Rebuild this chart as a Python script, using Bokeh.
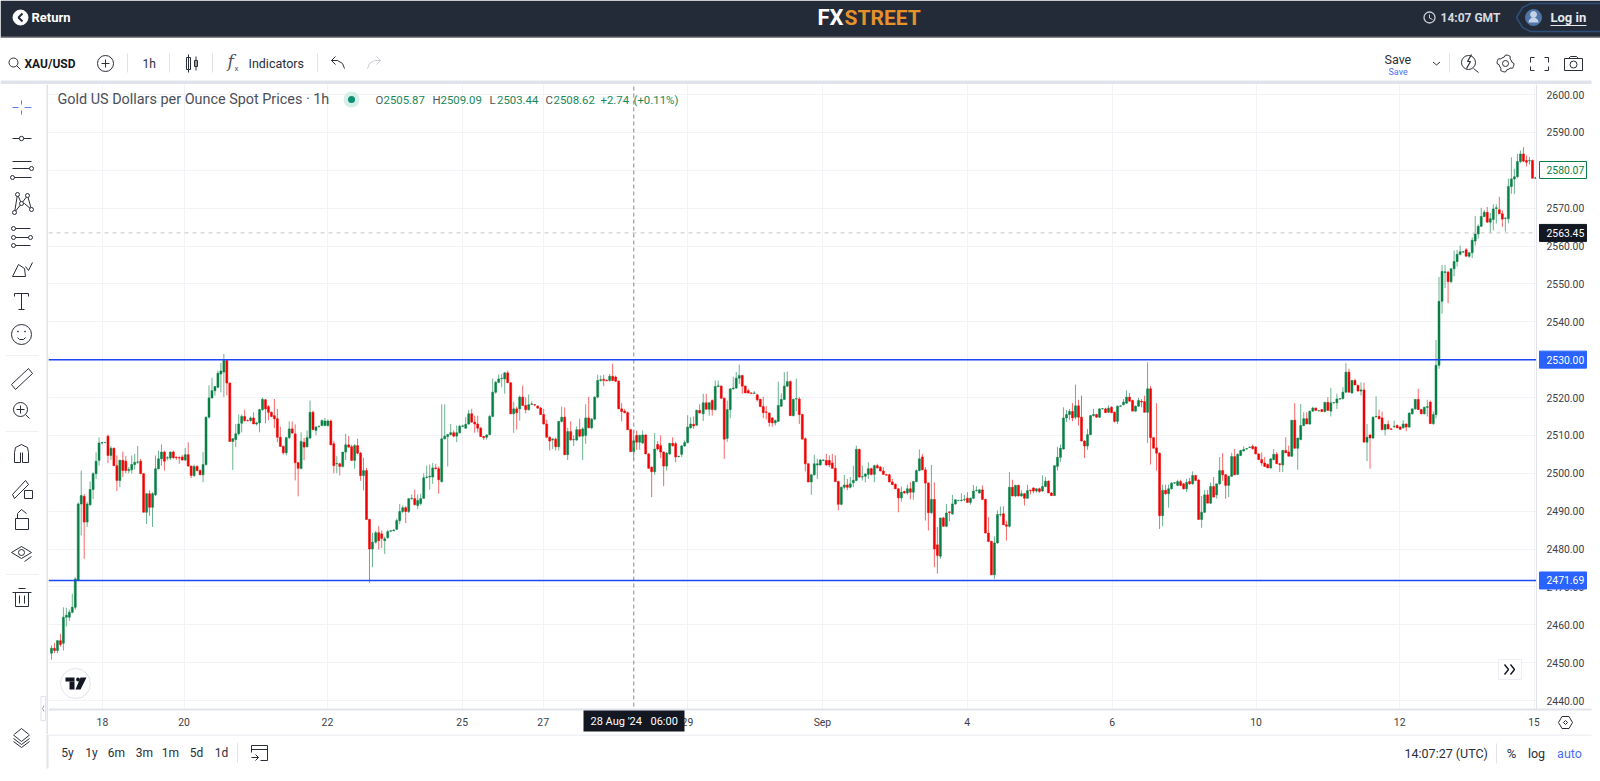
import math
import numpy as np
from bokeh.plotting import figure
from bokeh.layouts import column, row
from bokeh.models import Range1d, FixedTicker, NumeralTickFormatter, Label, BoxAnnotation, PolyAnnotation, ColumnDataSource
from bokeh.core.properties import value
from bokeh.embed import file_html
from bokeh.resources import INLINE

# ---------- DATA: hourly XAU/USD candles (open, high, low, close) ----------
bars_aug_18_to_23 = [
(2452.5,2454.5,2450.8,2453.8),(2453.8,2455.2,2452.5,2453.2),(2453.2,2456,2452.5,2455.8),(2455.8,2457.6,2454.2,2454.8),
(2455.1,2464.6,2453.2,2462),(2462,2464.5,2459.5,2462.5),(2462,2464,2461,2463.3),(2463.3,2468.2,2463,2464.6),
(2464.6,2472.5,2464,2472.1),(2471.8,2492.3,2471.5,2491.9),(2491.9,2500.7,2483.6,2494.1),(2493.9,2494.5,2477.4,2487.1),
(2487.1,2492.5,2485.8,2491.9),(2491.7,2497.8,2491.3,2495.7),(2495.7,2500.3,2493.2,2499.9),(2499.9,2505.5,2498.5,2503.2),
(2503.4,2509.5,2502,2508),(2508,2508.3,2507.6,2508.1),(2508.1,2508.2,2508,2508.15),(2509.8,2510.2,2502.7,2504.7),
(2504.7,2507.2,2503.5,2506.6),(2506.6,2506.8,2502,2502),(2502,2504.7,2495.3,2498.1),(2498.1,2503.6,2496.3,2503.4),
(2503.4,2505.7,2499,2500.7),(2503.2,2504.5,2500,2500.7),(2500.7,2501.6,2500,2501),(2500.9,2504.7,2499.9,2502.3),
(2502.3,2505.1,2501,2502.9),(2502.9,2507.2,2502.5,2503),(2503.2,2503.8,2499.8,2499.9),(2499.9,2500,2489.7,2489.7),
(2489.7,2494.7,2486.6,2494.6),(2494.6,2495.5,2488.8,2491),(2491,2495,2485.8,2494.6),(2494.3,2504.7,2494,2501.2),
(2501.2,2506,2501,2503.8),(2503.8,2507.6,2502,2505.6),(2505.6,2506,2500.7,2503.2),(2504,2504.5,2503.4,2504.1),
(2504,2505.7,2503.5,2505.6),(2505.6,2506,2503.8,2504.1),(2504.2,2504.5,2503.5,2504.1),(2504.1,2504.5,2502.5,2504),
(2504.3,2504.8,2503.3,2503.5),(2503.5,2506.7,2503.2,2504.9),(2504.9,2508.2,2501.8,2501.9),(2501.9,2502,2498.7,2499.4),
(2499.4,2502.3,2499,2501.8),(2501.8,2502.2,2500.5,2500.7),(2500.7,2501,2499.5,2499.6),(2499.6,2505.6,2497.6,2502.3),
(2502.3,2515,2502,2514.8),(2514.8,2523.2,2514.5,2519.9),(2519.9,2525.2,2519.7,2521.8),(2521.8,2523,2520.5,2522.9),
(2522.7,2527.1,2522.5,2526.4),(2526.2,2529.1,2521.4,2527),(2526.7,2531.5,2520.1,2529.8),(2529.8,2530,2520.5,2523.8),
(2523.8,2524,2508.3,2508.4),(2508.4,2509.3,2500.9,2509.1),(2508.9,2513,2506.9,2510.4),(2510.4,2515.5,2510,2513),
(2513.2,2515.5,2510.8,2515),(2515,2516.8,2513.6,2513.9),(2513.9,2514.2,2513.7,2513.85),(2513.9,2515,2513.6,2514.6),
(2514.6,2516.1,2513,2513),(2513,2513.6,2512.6,2513.3),(2513.3,2517,2510.8,2516.8),(2516.8,2520,2516.5,2519.5),
(2519.4,2519.6,2513.2,2517),(2517.6,2518,2514,2516.1),(2516.1,2516.3,2514.8,2515),(2515.2,2519.6,2511.9,2514.4),
(2514.4,2517,2508.2,2509.5),(2509.5,2512.3,2507,2507.1),(2507.1,2507.3,2504.9,2505.4),(2505.4,2509.6,2504.7,2509.4),
(2509.4,2513.7,2509,2511.7),(2511.7,2513.7,2510.5,2510.6),(2510.4,2512.9,2498.1,2502.8),(2502.8,2503,2493.9,2501.3),
(2501.3,2510.8,2501,2508.4),(2508.2,2509.3,2503.4,2506.9),(2507,2511.3,2506.8,2509.4),(2509.3,2519.2,2509,2516.1),
(2516.1,2516.5,2511.4,2511.5),(2511.3,2512.5,2510,2512.2),(2512.3,2512.6,2512.1,2512.4),(2512.6,2514.2,2512.4,2513.9),
(2512.6,2514.6,2512.4,2513.8),(2512.6,2514.2,2512.3,2513.8),(2513.8,2514.2,2507.4,2507.5),(2507.8,2508.6,2500,2502),
(2502.5,2504.5,2500,2502.6),(2502.5,2502.8,2499.4,2501.8),(2501.8,2505.6,2501.5,2505.6),(2505.6,2510.4,2503.5,2507.5),
(2507.5,2509.8,2506.8,2506.9),(2507,2507.5,2503.3,2503.4),(2503.4,2507.7,2501.2,2507.3),(2507.3,2509.1,2505,2505.3),
(2505.3,2505.6,2498,2499.4),(2499.4,2504.1,2495.5,2500.7),(2500.7,2501.4,2487.8,2487.8),(2487.8,2488,2471.1,2480),
(2480,2484.3,2475.2,2481.8),
]
bars_aug_23_to_29 = [
(2481.8,2484.8,2481.4,2484.3),(2484.3,2486,2479.9,2482.2),(2484,2484.9,2480.3,2482.8),(2482.2,2483.3,2478.7,2482.7),
(2483,2485.1,2482.7,2484.6),(2484.7,2485,2484.5,2484.8),(2484.8,2485.3,2484.7,2485),(2485.2,2488,2485,2487.5),
(2487.5,2491.9,2486.6,2489.9),(2489.9,2491.5,2489.5,2490.9),(2490.9,2491.3,2486.8,2489.9),(2489.9,2493.3,2489.5,2493.3),
(2493.3,2494.4,2493,2493.4),(2493.3,2495.7,2491.5,2491.7),(2491.5,2494.4,2490.6,2492.8),(2492,2494.6,2491.5,2493.3),
(2493.4,2500,2493.2,2498.8),(2498.9,2502,2498.6,2499),(2499,2502.3,2495.7,2499.2),(2499,2502.7,2497.2,2501.4),
(2501.4,2502.5,2501,2501.2),(2501.2,2501.8,2494.6,2498.3),(2497.8,2518.2,2497.5,2509.1),(2509.1,2518.2,2508.9,2509.8),
(2509.7,2510.4,2501.8,2510.2),(2510.2,2513,2510,2510.7),(2510.7,2511.3,2509.5,2509.8),(2509.8,2512.6,2508.2,2510.7),
(2510.7,2512.8,2510.5,2512.4),(2512.4,2512.8,2512.2,2512.5),(2511.9,2514.8,2511.7,2512.9),(2513,2516.7,2512.8,2515.7),
(2515.7,2517,2513.3,2513.5),(2513.5,2515.2,2510.7,2513),(2513,2515.2,2510.8,2511.9),(2511.9,2512.2,2509.6,2509.7),
(2509.7,2509.8,2508.8,2509.4),(2509.5,2510.3,2508.9,2510.1),(2510.2,2515.4,2510,2515),(2515,2525,2514.8,2521.4),
(2521.4,2524.4,2521,2524),(2524,2526.1,2523.8,2524.9),(2525,2526.2,2522.7,2525.1),(2524.9,2526.8,2521,2526.5),
(2526.5,2527.1,2523.8,2523.9),(2523.9,2524,2515.6,2515.7),(2515.7,2518.9,2510.7,2517),(2517,2517.6,2511.5,2516),
(2517,2520.5,2513.9,2520.1),(2520.1,2523.2,2517.8,2517.9),(2517.9,2520,2515.8,2516.8),(2516.8,2520.8,2516.5,2518.1),
(2518.2,2519,2518,2518.3),(2518.1,2518.3,2517.8,2518),(2517.7,2518,2517,2517.2),(2517.2,2517.5,2515.4,2515.5),
(2515.5,2517,2512.9,2513),(2513,2514.1,2509.5,2509.5),(2509.5,2509.8,2506,2508.5),(2508.8,2509.3,2506.4,2509),
(2509,2509.4,2506,2507),(2507,2513.7,2506,2513.7),(2513.7,2517.6,2513.4,2514.8),(2514.8,2517.4,2504.8,2504.9),
(2504.9,2512,2503.5,2511),(2511,2513.7,2508.6,2508.8),(2508.8,2510,2507.2,2508.9),(2508.8,2512.4,2508.5,2511.5),
(2511.5,2514.4,2509.5,2509.8),(2509.8,2512.2,2503.5,2511.7),(2510,2518.2,2507.8,2514.6),(2514.6,2520.2,2511.9,2512),
(2512,2514.6,2511.6,2514.3),(2514.3,2520.3,2514,2520.1),(2520.1,2526,2519.8,2524.5),(2524.5,2525.8,2524.2,2524.7),
(2524.8,2526,2523,2524.5),(2524.5,2524.8,2524.3,2524.4),(2524.5,2526.2,2524.2,2525.6),(2525.6,2528.9,2524.3,2524.5),
(2525.4,2525.8,2524.1,2524.3),(2524.3,2524.5,2517,2517),(2517,2518.5,2513.7,2516.3),(2516.4,2517,2515.8,2516),
(2516,2516.3,2511.4,2511.5),(2511.5,2511.7,2505.7,2505.7),(2505.7,2511.3,2503.5,2508.6),(2510,2511.3,2506.2,2508.2),
(2508.2,2510.2,2506.2,2510),(2508,2511.3,2507.7,2510.1),(2510.1,2510.3,2505.1,2505.1),(2505.1,2505.3,2501.3,2501.3),
(2501.6,2501.8,2493.7,2500.4),(2500.4,2510.6,2499.6,2506.4),(2507.6,2508.5,2506,2506.4),(2507.3,2510,2504,2505.6),
(2505.6,2505.8,2496.6,2501.9),(2501.9,2505.6,2500.7,2505.3),(2505.1,2508,2504.9,2507.9),(2507.9,2509.5,2507,2507.3),
(2507.8,2508.3,2502.9,2504.3),(2504.4,2504.6,2504.2,2504.5),(2505,2507.5,2504.3,2507.2),(2507.2,2508.7,2507,2508.1),
(2508.1,2515.3,2507.9,2512.2),(2512,2514.8,2511.8,2513),(2512.9,2515,2511.7,2512.5),(2512.7,2516.8,2512.5,2516.6),
(2516.6,2518.2,2515.8,2515.9),
]
bars_aug_29_to_sep_4 = [
(2515.7,2521,2513.8,2518.6),(2518.6,2521,2516.8,2516.9),(2516.9,2518.8,2515.2,2518.6),(2519.2,2519.5,2515.2,2516.8),
(2516.8,2524.5,2516.5,2522.9),(2522.9,2524.5,2522.7,2523.1),(2523,2523.2,2519.6,2519.8),(2519.8,2520,2503.8,2509),
(2509.2,2519.2,2508.3,2516.8),(2516.8,2522.3,2514.5,2522.3),(2522.3,2525.5,2522,2522.5),(2522.5,2526.7,2522.2,2525.1),
(2525.1,2528.7,2523.6,2525.8),(2525.8,2526,2521,2523),(2523,2523.2,2521.2,2521.2),(2521.8,2522.3,2521,2521.2),
(2521.2,2521.4,2521,2521.1),(2521.1,2521.7,2521,2521.2),(2520.7,2521,2518.9,2519.4),(2519.5,2519.7,2517.6,2517.6),
(2517.6,2520.2,2514.5,2516),(2516.2,2517.7,2514.2,2516.1),(2515.9,2516.1,2512.3,2513.4),(2514.6,2514.8,2512.3,2513.3),
(2513.3,2514.2,2512.6,2513.9),(2513.7,2524.2,2513.5,2517.9),(2517.7,2521.1,2517.5,2519.5),(2519.5,2526.7,2519.3,2523),
(2523,2526.9,2522.8,2524.2),(2524.2,2524.5,2515.2,2515.2),(2515.2,2519.7,2515,2519.5),(2519.6,2525,2516.4,2519.7),
(2519.6,2520.1,2513,2515.5),(2515.5,2515.7,2509,2509),(2509.1,2509.5,2500.5,2502.5),(2502.5,2502.7,2497.6,2497.7),
(2497.7,2499.7,2494.3,2499.6),(2499.6,2504.9,2499.4,2502.5),(2502.2,2503.8,2498.5,2502.5),(2502.2,2503.8,2502,2503.5),
(2503.4,2503.7,2503.2,2503.5),(2503.4,2505.1,2502,2502.2),(2503.4,2504.7,2501.6,2502.2),(2502.7,2505.1,2501.3,2501.3),
(2501.3,2504.7,2497.8,2497.8),(2497.8,2498,2490.2,2491.8),(2491.8,2496.5,2491.5,2496.3),(2496.3,2499.6,2495.8,2496.9),
(2496.9,2498.5,2495.5,2496.3),(2496.3,2499,2496,2497.2),(2497.5,2502,2496.3,2498.1),(2498.1,2507.3,2497.9,2506.3),
(2506.3,2506.5,2498.8,2499),(2499,2502,2498.1,2499.1),(2499.2,2500,2497.6,2499.8),(2499.7,2502.9,2498.5,2501.2),
(2501.2,2501.5,2499.4,2499.7),(2499.7,2502.3,2497.6,2502),(2502,2502.5,2501.3,2501.4),(2501.6,2501.9,2500.5,2500.6),
(2500.6,2501.6,2499.6,2499.7),(2499.6,2499.8,2499.4,2499.5),(2499.6,2499.8,2497.6,2497.7),(2497.7,2498.5,2496.9,2497),
(2497.1,2497.3,2495.8,2495.9),(2495.9,2496.1,2489.7,2493.5),(2493.5,2496.5,2492.5,2495),(2495.2,2495.4,2494.6,2494.8),
(2494.8,2497,2494.3,2495.9),(2495.9,2497.6,2493.1,2495),(2495,2498,2493,2497.8),(2497.8,2501,2497.6,2500.7),
(2500.7,2506.3,2500.5,2503.8),(2504.3,2505.1,2500.9,2500.9),(2500.9,2501.6,2487.5,2497.4),(2497.4,2497.6,2484.9,2489.6),
(2489.6,2502.2,2489.2,2493.1),(2493.1,2497.6,2475.2,2480),(2481.1,2485.8,2473.5,2478.3),(2478.1,2488.2,2477.4,2488.2),
(2488.2,2488.5,2485.9,2486),(2486,2491.9,2485.8,2489.5),(2489.8,2490,2487.3,2489.6),(2489.3,2494.3,2489,2491.9),
(2491.9,2493,2491.7,2493),(2492.8,2493,2492.6,2492.8),(2492.8,2494.7,2492.5,2492.9),(2493,2494.3,2492.6,2493.1),
(2493.4,2495,2492.2,2492.3),(2492.3,2493.6,2491.7,2493.4),(2493.4,2496.9,2493.2,2495.3),(2495.4,2496.6,2495.2,2495.5),
(2494.8,2495.9,2494.6,2495.6),(2495.6,2496.8,2493,2493.1),(2493.1,2493.3,2484.2,2484.2),(2484.2,2488.4,2481.8,2482),
(2482,2482.2,2473.1,2473.2),(2473.2,2483.3,2472.1,2481.6),(2481.6,2490.2,2481.4,2489.1),(2489,2491.2,2488.6,2489.1),
(2489.3,2491.3,2486.3,2486.4),(2486.4,2487.5,2482.2,2486),(2486,2500.3,2485.7,2496.3),(2496.3,2498.3,2493.9,2494),
(2494,2496.8,2493.7,2496.8),(2496.8,2497,2493.9,2494),(2494,2495.5,2493.8,2494.6),(2494.6,2494.8,2491.5,2493.4),
(2493.4,2497,2493.2,2495.4),
]
bars_sep_4_to_10 = [
(2495.5,2495.7,2494.4,2495.4),(2496.1,2496.3,2494.7,2495.3),(2495.3,2496,2494.9,2495.9),(2495.9,2496.2,2494.8,2495.2),
(2495.3,2499.4,2495.1,2496.5),(2496.5,2499,2496.3,2497.9),(2497.9,2498.1,2494.8,2494.8),(2494.8,2495,2494,2494.1),
(2494.1,2502,2494,2502),(2501.8,2507,2500.7,2504.2),(2504.2,2507.6,2503,2506.6),(2506.4,2517.4,2506.2,2514.6),
(2514.6,2516.7,2513.5,2515.5),(2515.5,2517,2514,2516.3),(2516.3,2518.5,2513.7,2514.6),(2514.8,2523.4,2514.3,2517.8),
(2517.8,2519.4,2512.6,2514.8),(2514.8,2520.5,2508.4,2508.5),(2508.5,2508.7,2504,2507.2),(2507.2,2511.7,2506.2,2510.2),
(2510.2,2515.4,2510,2515.2),(2515.2,2517,2515,2515.5),(2515.5,2515.7,2514.6,2514.8),(2514.8,2517.1,2514.6,2517),
(2517,2517.2,2516.8,2517.05),(2517,2517.3,2515.9,2516),(2516.1,2517.9,2515.9,2517.2),(2517.4,2517.7,2515.9,2516),
(2516.1,2516.3,2513.4,2513.7),(2513.7,2517.9,2513,2517.7),(2517.7,2517.9,2517.5,2517.8),(2518.1,2519.6,2517.9,2518.8),
(2518.5,2521.9,2518.3,2520.1),(2520.1,2521.2,2519,2519),(2519.2,2519.4,2516.4,2516.4),(2516.4,2517.9,2516.2,2517.7),
(2517.7,2519.9,2517.5,2519.2),(2519,2519.6,2517.4,2518.8),(2518.9,2520.5,2516.1,2516.1),(2516.1,2529.3,2508,2522.3),
(2522.3,2523,2502.3,2509.4),(2509.4,2509.6,2506.6,2506.6),(2506.7,2518.5,2500.7,2505.3),(2505.3,2505.5,2485.3,2488.8),
(2488.8,2497,2486,2495.5),(2495.5,2497,2494.3,2494.6),(2494.6,2497,2490.9,2495.9),(2495.9,2497.6,2495.7,2497.4),
(2497.4,2497.6,2497.2,2497.5),(2496.8,2498.3,2496.6,2497.8),(2497.8,2498.3,2496.6,2496.8),(2497.2,2497.4,2495.7,2495.9),
(2495.9,2498.5,2495,2497.6),(2497.8,2498.8,2497,2497.2),(2497.2,2500.5,2497,2499.4),(2499.4,2499.6,2498,2498.1),
(2498.2,2498.4,2487.7,2487.8),(2487.8,2494,2485.6,2489.7),(2489.7,2495.6,2489.5,2494.3),(2494.3,2495.6,2492.1,2492.1),
(2492.1,2497.6,2491.9,2496.5),(2496.5,2499,2493.7,2493.7),(2494.3,2497.2,2493.3,2497.2),(2497.2,2504.3,2497,2500.7),
(2500.7,2505.3,2498,2499.6),(2499.6,2499.8,2493.3,2496.8),(2496.8,2499.3,2493.7,2499.2),(2499.2,2505.4,2499,2504.4),
(2504.4,2506.4,2499.5,2499.6),(2499.7,2505.2,2499.5,2505),(2504.7,2506.2,2504.5,2506),(2505.9,2507.1,2505.7,2506.3),
(2506.4,2506.7,2506.2,2506.5),(2506.8,2507.1,2506.7,2506.9),(2507.1,2507.6,2506.2,2506.5),(2506.9,2507.2,2505.1,2505.1),
(2505.1,2505.3,2503.6,2503.6),(2503.6,2505.5,2502,2502.7),(2502.7,2504.3,2501.7,2501.8),(2502.3,2502.6,2501.4,2501.4),
(2501.4,2503.9,2501.2,2503.8),(2503.6,2506.4,2503.4,2505),(2505,2505.6,2502.5,2502.5),(2502.5,2502.7,2500.3,2502.3),
(2502.2,2506.2,2500.3,2506),(2506,2509.5,2505.3,2505.4),(2505.6,2507.3,2504.5,2504.5),(2504.5,2514,2504.3,2514),
(2514,2518.5,2506.5,2506.6),(2506.6,2509.3,2500.9,2509.3),
]
bars_sep_10_to_13 = [
(2508.9,2518.3,2508.7,2512.6),(2512.6,2516.1,2512.4,2514.4),(2514.4,2516.1,2513,2513),(2513,2516.5,2512.8,2516.4),
(2516.4,2517.6,2516.2,2517.2),(2517.2,2517.4,2516.5,2516.6),(2516.5,2516.7,2516.3,2516.55),(2516.8,2517,2516.2,2516.3),
(2516.3,2518.9,2516.1,2518.7),(2518.7,2520.1,2516.5,2516.6),(2516.4,2522.5,2515,2518.6),(2518.6,2518.8,2518.4,2518.65),
(2518.6,2521,2517,2519.6),(2519.6,2519.8,2519.4,2519.7),(2519.7,2522.7,2519.5,2521.4),(2521.4,2529.1,2521.2,2526.7),
(2526.7,2527.6,2521.3,2521.4),(2521.2,2524.6,2521,2524.5),(2524.5,2525,2523.3,2523.3),(2523.2,2523.4,2521.6,2521.7),
(2521.7,2524,2520.5,2522),(2522,2523.9,2508.2,2508.2),(2508.2,2513,2503.2,2509.5),(2510.1,2510.4,2501.2,2509.3),
(2509.3,2515,2509,2514.8),(2514.9,2520.3,2514.7,2515),(2515,2516.8,2514.2,2514.4),(2514.6,2516.3,2511.4,2511.5),
(2511.5,2512.9,2510,2512.9),(2512.9,2513.9,2511.6,2511.7),(2511.7,2511.9,2511.5,2511.6),(2512.3,2513.9,2511.9,2512.4),
(2512.6,2512.9,2511.9,2512),(2512.2,2512.4,2511.5,2511.6),(2512,2514,2511.8,2513),(2513,2513.2,2511.1,2512.2),
(2512.2,2516,2512,2515.9),(2515.7,2517.1,2515.5,2517),(2517,2519.5,2516.8,2519.5),(2519.5,2522.3,2516.8,2516.8),
(2516.8,2517,2515.6,2515.7),(2515.7,2517.6,2515.5,2517.4),(2517.4,2519.4,2515,2517.6),(2518.8,2519.2,2513,2513.1),
(2513.1,2516.3,2512.8,2515.5),
]
bars_sep_13_to_15 = [
(2515.5,2535.2,2514.5,2528.5),(2528.5,2551.8,2527.6,2545.4),(2545.4,2555,2542.1,2553.3),(2553,2555,2548.9,2553.2),
(2553.1,2553.5,2544.9,2550.6),(2550.6,2554,2550.2,2554),(2554,2558.8,2552,2555.9),(2555.9,2559,2554.6,2557.8),
(2557.8,2560.1,2557.5,2558.5),(2558.4,2558.7,2558.1,2558.45),(2559,2559.5,2557.2,2557.3),(2557.3,2558.4,2556.8,2558.2),
(2558.2,2562.3,2556.8,2561.5),(2561.3,2567.9,2560.1,2563.2),(2563.2,2565.7,2561.9,2565.2),(2565.2,2570.1,2565,2567.8),
(2567.8,2569.5,2567.6,2568.9),(2568.9,2570.3,2566.2,2566.3),(2566.3,2568.7,2563.4,2567.2),(2567,2571,2564.1,2569.8),
(2569.9,2571,2565.9,2570.1),(2569.6,2573,2568.5,2568.5),(2568.5,2569.4,2565,2567.1),(2567.3,2567.5,2563.8,2567.4),
(2567.2,2577.8,2566,2575.7),(2575.7,2583.4,2573.8,2577.7),(2577.7,2580.4,2573.7,2578.3),(2578.3,2584.3,2578,2582.3),
(2582.3,2585.2,2581.9,2584.3),(2584.3,2586.1,2582.2,2582.4),(2582.6,2583.9,2581,2582.1),(2582.5,2583.5,2581.5,2582.6),
(2582.6,2582.8,2577.9,2577.9),(2577.9,2578.2,2577.7,2578),(2578.6,2580.3,2578.2,2580.07),
]
segments = [bars_aug_18_to_23, bars_aug_23_to_29, bars_aug_29_to_sep_4, bars_sep_4_to_10, bars_sep_10_to_13, bars_sep_13_to_15]
# first and last bar slot of each run of candles on the hourly time scale
segment_slots = [(0, 107.7), (108.8, 217.5), (218.7, 327.5), (328.5, 418.2), (419.2, 463.7), (464.6, 499)]
price_ticks = [2440,2450,2460,2470,2480,2490,2500,2510,2520,2530,2540,2550,2560,2570,2580,2590,2600]
date_labels = ["18","20","22","25","27","29","Sep","4","6","10","12","15"]
date_slots = [17.1,44.5,92.6,137.8,165,213.4,258.7,307.3,355.9,404.2,452.4,497.5]
crosshair_slot = 195.4
crosshair_price = 2563.45
upper_level = 2530.00
lower_level = 2471.69
last_price = 2580.07
range_buttons = ["5y","1y","6m","3m","1m","5d","1d"]
legend_parts = ["O","2505.87","H","2509.09","L","2503.44","C","2508.62","+2.74","(+0.11%)"]

# ---------- palette ----------
INK, GREY, BAND, GRID = "#2a2e39", "#50535e", "#e0e3eb", "#f2f3f6"
GREEN, RED, BLUE, NAVY = "#087f45", "#f00000", "#1a47f0", "#232b38"
SANS = value("Roboto")
SCALE_SIZE = "10.4px"

bars = [b for seg in segments for b in seg]
slots = np.concatenate([np.linspace(a, b, len(seg)) for seg, (a, b) in zip(segments, segment_slots)]).tolist()
O = [b[0] for b in bars]; H = [b[1] for b in bars]; L = [b[2] for b in bars]; C = [b[3] for b in bars]
spacing, first_px = 2.98, 51
slot_of = lambda px_x: (px_x - first_px) / spacing
price_of = lambda px_y: 2440 + (700 - px_y) / 3.7875

# ---------- main chart: frame spans page x 48..1600, y 84..734; axes sit inside it ----------
XS, XE, YS, YE = slot_of(48), slot_of(1600), price_of(734), price_of(84)
p = figure(width=1552, height=650, frame_width=1552, frame_height=650, output_backend="svg", toolbar_location=None,
           x_range=Range1d(XS, XE), y_range=Range1d(YS, YE), min_border=0,
           x_axis_location="below", y_axis_location="right", outline_line_color=None, background_fill_color="white")
p.yaxis.ticker = FixedTicker(ticks=price_ticks)
p.yaxis.formatter = NumeralTickFormatter(format="0.00")
p.xaxis.ticker = FixedTicker(ticks=date_slots)
p.xaxis.major_label_overrides = {t: s for t, s in zip(date_slots, date_labels)}
p.yaxis[0].fixed_location = slot_of(1536)
p.xaxis[0].fixed_location = price_of(709)
p.yaxis[0].bounds = (price_of(709), YE)
p.xaxis[0].bounds = (XS, slot_of(1591))
for ax in (p.xaxis[0], p.yaxis[0]):
    ax.major_tick_line_color = None; ax.minor_tick_line_color = None
    ax.major_tick_out = 0; ax.major_tick_in = 0
    ax.axis_line_color = BAND
    ax.major_label_text_font = "Roboto"; ax.major_label_text_color = "#3c4048"
    ax.major_label_text_font_size = SCALE_SIZE
p.xaxis[0].major_label_standoff = 6
p.yaxis[0].major_label_standoff = 10
p.xaxis[0].axis_line_width = 2
p.grid.grid_line_color = GRID
src = ColumnDataSource(dict(x=slots, o=O, h=H, l=L, c=C,
                            top=[max(a, b) for a, b in zip(O, C)], bot=[min(a, b) for a, b in zip(O, C)],
                            col=[GREEN if b >= a else RED for a, b in zip(O, C)]))
p.segment("x", "h", "x", "l", source=src, line_color="col", line_width=1, line_alpha=0.6)
p.vbar(x="x", top="top", bottom="bot", width=2 / spacing, source=src, fill_color="col", line_color="col", line_width=0.5)
p.segment([XS], [crosshair_price], [XE], [crosshair_price], line_color="#c4c4c4", line_dash="4 4", line_width=1)
p.segment([crosshair_slot], [YS], [crosshair_slot], [YE], line_color="#8a8a8a", line_dash="4 3", line_width=1)
p.segment([XS, XS], [upper_level, lower_level], [XE, XE], [upper_level, lower_level], line_color=BLUE, line_width=1.5)

# helper scale in page pixels for chart furniture
p.extra_x_ranges["px"] = Range1d(48, 1600)
p.extra_y_ranges["px"] = Range1d(734, 84)
px = dict(x_range_name="px", y_range_name="px")
# white margin holding the two scales: hides candles and grid past the pane edge
p.quad(left=[1536, 48], right=[1600, 1600], top=[84, 709], bottom=[734, 734], fill_color="white", line_color=None, **px)
p.circle([75], [683], radius=15, fill_color="white", line_color=BAND, **px)
p.quad(left=[65, 69], right=[74, 74], top=[677, 681], bottom=[681, 689], fill_color="#131722", line_color=None, **px)
p.circle([77.5], [679], radius=1.9, fill_color="#131722", line_color=None, **px)
p.patch([80, 86, 80, 75], [677, 677, 689, 689], fill_color="#131722", line_color=None, **px)
p.quad(left=[1498], right=[1521], top=[659], bottom=[679], fill_color="white", line_color="#eceef3", **px)
p.multi_line([[1504, 1508, 1504], [1510, 1514, 1510]], [[664, 669, 674], [664, 669, 674]], line_color="#131722", line_width=1.4, **px)

CX = lambda x: x - 48          # canvas x of this figure
CY = lambda y: y - 84          # canvas y of this figure
canvas_box = dict(left_units="canvas", right_units="canvas", top_units="canvas", bottom_units="canvas")
# white patch that cuts the "15" label at the scale corner
p.add_layout(BoxAnnotation(left=CX(1539), right=CX(1600), top=CY(711), bottom=CY(733), fill_color="white", fill_alpha=1, line_color=None, **canvas_box))

def price_tag(price, text, fill, line, color):
    half = 8.5 / 3.7875
    p.add_layout(BoxAnnotation(left=CX(1539), right=CX(1586), left_units="canvas", right_units="canvas",
                               top=price + half, bottom=price - half, fill_color=fill, fill_alpha=1,
                               line_color=line, line_alpha=1))
    p.add_layout(Label(x=CX(1546), y=price, x_units="canvas", y_units="data", text=text, text_font="Roboto", text_font_size=SCALE_SIZE,
                       text_color=color, text_baseline="middle"))
price_tag(last_price, "2580.07", "white", GREEN, GREEN)
price_tag(crosshair_price, "2563.45", "#131722", "#131722", "white")
price_tag(upper_level, "2530.00", "#2962ff", "#2962ff", "white")
price_tag(lower_level, "2471.69", "#2962ff", "#2962ff", "white")

p.add_layout(BoxAnnotation(left=CX(583), right=CX(684), top=CY(710), bottom=CY(731), fill_color="#131722", fill_alpha=1, line_color=None, **canvas_box))
p.add_layout(Label(x=CX(590), y=CY(721), x_units="canvas", y_units="canvas", text="28 Aug '24", text_color="white",
                   text_font="Roboto", text_font_size="11px", text_baseline="middle"))
p.add_layout(Label(x=CX(650), y=CY(721), x_units="canvas", y_units="canvas", text="06:00", text_color="white",
                   text_font="Roboto", text_font_size="11px", text_baseline="middle"))
p.add_layout(PolyAnnotation(xs=[CX(v) for v in (1558, 1561.5, 1568.5, 1572, 1568.5, 1561.5)],
                            ys=[CY(v) for v in (722, 716, 716, 722, 728, 728)],
                            xs_units="canvas", ys_units="canvas", fill_alpha=0, line_color=INK, line_alpha=1, line_width=1))
p.add_layout(PolyAnnotation(xs=[CX(v) for v in (1563, 1565, 1567, 1565)], ys=[CY(v) for v in (722, 720, 722, 724)],
                            xs_units="canvas", ys_units="canvas", fill_alpha=0, line_color=INK, line_alpha=1, line_width=1))

# legend line
p.add_layout(Label(x=CX(57), y=CY(99), x_units="canvas", y_units="canvas", text="Gold US Dollars per Ounce Spot Prices · 1h",
                   text_font="Roboto", text_font_size="14.4px", text_color="#4a4e59", text_baseline="middle"))
p.circle([351], [99], radius=8, fill_color="#d7efe9", line_color=None, **px)
p.circle([351], [99], radius=3.5, fill_color="#0c8f73", line_color=None, **px)
legend_x = [375, 383, 432, 440, 489, 496.5, 545, 553, 600, 633]
for t, x in zip(legend_parts, legend_x):
    col = GREY if t in "OHLC" else "#18885a"
    p.add_layout(Label(x=CX(x), y=CY(99), x_units="canvas", y_units="canvas", text=t, text_font="Roboto", text_font_size="11.4px",
                       text_color=col, text_baseline="middle"))

# ---------- chrome figures in page pixels ----------
def chrome(w, h, xr, yr):
    f = figure(width=w, height=h, frame_width=w, frame_height=h, x_range=xr, y_range=yr, output_backend="svg", toolbar_location=None,
               x_axis_location=None, y_axis_location=None, min_border=0, outline_line_color=None)
    f.grid.visible = False
    return f
def txt(f, x, y, s, size="12px", color=INK, style="normal", align="left", font=SANS):
    f.text([x], [y], text=[s], text_font=font, text_font_size=size, text_color=color, text_font_style=style,
           text_align=align, text_baseline="middle")
def ln(f, xs, ys, color=INK, w=1):
    f.line(xs, ys, line_color=color, line_width=w)
def ring(f, x, y, r, color=INK, w=1, fill=None):
    f.circle([x], [y], radius=r, line_color=color, line_width=w, fill_color=fill, fill_alpha=1 if fill else 0)
def box(f, l, r, t, b, fill=None, line=INK):
    f.quad(left=[l], right=[r], top=[t], bottom=[b], fill_color=fill, line_color=line)
def layers(f):
    ln(f, [13, 21, 29, 21, 13], [734.5, 728, 734.5, 741, 734.5])
    ln(f, [13, 21, 29], [738, 744, 738])
    ln(f, [13, 21, 29], [741, 747, 741])

top = chrome(1600, 84, (0, 1600), (84, 0))
box(top, 0, 1600, 0, 36, NAVY, None)
box(top, 0, 1600, 36, 37, "#0d0f14", None)
box(top, 0, 1591, 80, 84, BAND, None)
ring(top, 20, 17, 7.5, "white", 1, "white")
ln(top, [22, 18, 22], [13, 17, 21], NAVY, 2)
txt(top, 31, 17, "Return", "13px", "white", "bold")
txt(top, 817, 17, "FX", "22px", "white", "bold")
txt(top, 844, 17, "STREET", "21px", "#e8912a", "bold")
ring(top, 1429, 17, 5.5, "#c9d0d8", 1.3)
ln(top, [1429, 1429, 1432], [14, 17.5, 19], "#c9d0d8", 1)
txt(top, 1440, 17, "14:07 GMT", "12px", "#d5dae0", "bold")
top.line([1600, 1530, 1522, 1516, 1522, 1530, 1600], [3, 3, 7, 17, 27, 31, 31], line_color="#2e4f7c", line_width=1.5)
ring(top, 1533, 17, 8, "#4f74a8", 1, "#4f74a8")
ring(top, 1533, 14, 3, "#c4d2e6", 1, "#c4d2e6")
top.wedge([1533], [22], radius=5, start_angle=0, end_angle=3.14, fill_color="#c4d2e6", line_color=None)
txt(top, 1550, 17, "Log in", "13px", "#e6eaee", "bold")
ln(top, [1550, 1586], [25, 25], "#e6eaee", 1)
# toolbar
ring(top, 13, 62, 4.5)
ln(top, [16, 20], [65, 69])
txt(top, 24, 63, "XAU/USD", "12px", "#131722", "bold")
ring(top, 105, 63, 8)
ln(top, [101, 109], [63, 63]); ln(top, [105, 105], [59, 67])
txt(top, 142, 63, "1h", "12px")
for sx in (127, 169, 212, 317, 1449):
    ln(top, [sx, sx], [53, 72], BAND, 1)
box(top, 186, 190, 57, 69); ln(top, [188, 188], [54, 72])
box(top, 194, 197, 60, 66); ln(top, [195.5, 195.5], [56, 70])
txt(top, 227, 60, "f", "17px", GREY, "italic", font=value("DejaVu Serif"))
txt(top, 234, 68, "x", "8px", GREY)
txt(top, 248, 63, "Indicators", "12.5px")
ln(top, [344, 342, 337, 331], [68, 63, 60, 60]); ln(top, [335, 331, 335], [56, 60, 64])
ln(top, [367, 369, 374, 380], [68, 63, 60, 60], "#c8ccd4"); ln(top, [376, 380, 376], [56, 60, 64], "#c8ccd4")
txt(top, 1384, 59, "Save", "12.5px")
txt(top, 1388, 71, "Save", "9px", "#4a6cf7")
ln(top, [1432.5, 1436, 1439.5], [61.5, 64.5, 61.5])
ring(top, 1468, 62, 7)
ln(top, [1473, 1478], [68, 72])
ln(top, [1471, 1467, 1470, 1466], [54, 61, 61, 68], INK, 1.2)
# gear
gear_t = [i * math.pi / 16 for i in range(33)]
gear_r = [8.5 if (i // 2) % 4 < 2 else 6.5 for i in range(33)]
ln(top, [1505 + r * math.cos(a) for r, a in zip(gear_r, gear_t)], [63 + r * math.sin(a) for r, a in zip(gear_r, gear_t)], INK, 1)
ring(top, 1505, 63, 3)
for a, b in [([1530, 1530, 1534], [62, 57, 57]), ([1544, 1548, 1548], [57, 57, 62]), ([1530, 1530, 1534], [66, 70, 70]), ([1544, 1548, 1548], [70, 70, 66])]:
    ln(top, a, b)
box(top, 1564, 1582, 58, 70)
ring(top, 1573, 64, 3.5)
ln(top, [1568, 1570, 1576, 1578], [58, 56, 56, 58])

left = chrome(48, 650, (0, 48), (734, 84))
box(left, 46, 48, 84, 734, BAND, None)
ln(left, [21, 21], [100, 104], "#5b7cf5"); ln(left, [21, 21], [110, 114], "#5b7cf5")
ln(left, [12, 18], [107, 107], "#5b7cf5"); ln(left, [24, 31], [107, 107], "#5b7cf5")
ln(left, [12, 31], [138, 138]); ring(left, 21, 138, 2.2, INK, 1, "white")
ln(left, [12, 31], [161, 161]); ln(left, [12, 29], [168, 168]); ln(left, [14, 31], [177, 177])
ring(left, 31, 168, 2, INK, 1, "white"); ring(left, 12, 177, 2, INK, 1, "white")
ln(left, [14, 17, 21, 27, 31, 24, 21, 14], [212, 194, 203, 195, 209, 203, 203, 212])
for a, b in [(14, 212), (17, 194), (21, 203), (27, 195), (31, 209)]:
    ring(left, a, b, 2, INK, 1, "white")
ln(left, [14, 30], [228, 228]); ln(left, [14, 30], [237, 237]); ln(left, [14, 30], [245, 245])
for a, b in [(13, 228), (13, 237), (30, 237), (13, 245)]:
    ring(left, a, b, 2, INK, 1, "white")
ln(left, [12, 25, 24, 18, 12], [276, 276, 268, 264, 276])
ln(left, [25, 28, 32], [266, 270, 262])
ln(left, [14, 28], [293, 293]); ln(left, [14, 14], [293, 296]); ln(left, [28, 28], [293, 296]); ln(left, [21, 21], [293, 309]); ln(left, [18, 24], [309, 309])
ring(left, 21, 334, 10); ring(left, 17.5, 331, .5); ring(left, 24.5, 331, .5); ln(left, [17, 19, 23, 25], [337, 339, 339, 337])
ln(left, [5, 38], [355, 355], "#eef0f4")
ln(left, [11, 28, 32, 15, 11], [384, 368, 373, 389, 384])
ring(left, 20, 409, 7); ln(left, [25, 29], [414, 418]); ln(left, [16, 24], [409, 409]); ln(left, [20, 20], [405, 413])
ln(left, [5, 38], [431, 431], "#eef0f4")
ln(left, [14, 14], [462, 452]); ln(left, [28, 28], [462, 452])
ln(left, [14, 15, 21, 27, 28], [452, 447, 444, 447, 452])
ln(left, [20, 20], [462, 452]); ln(left, [22, 22], [462, 452]); ln(left, [14, 20], [462, 462]); ln(left, [22, 28], [462, 462])
ln(left, [12, 14, 28, 25, 12], [494, 498, 484, 480, 494])
box(left, 24, 32, 490, 498)
box(left, 15, 28, 518, 529)
ln(left, [17, 17, 21, 26], [518, 513, 509, 513])
ln(left, [11, 21, 31, 21, 11], [552, 546, 552, 558, 552])
ring(left, 21, 552, 3); ln(left, [24, 31], [561, 556])
ln(left, [5, 38], [574, 574], "#eef0f4")
box(left, 15, 28, 592, 606)
ln(left, [12, 31], [592, 592]); ln(left, [19, 19], [595, 603]); ln(left, [24, 24], [595, 603]); ln(left, [18, 25], [588, 588])
box(left, 40.5, 45, 696, 720, "white", BAND)
ln(left, [43.5, 42, 43.5], [705, 708, 711], "#9aa0ab")
layers(left)

bottom = chrome(1600, 47, (0, 1600), (781, 734))
box(bottom, 46, 48, 734, 768, BAND, None)
box(bottom, 48, 1591, 734, 735, BAND, None)
layers(bottom)
for b_x, t in zip([67, 91, 116, 144, 170, 196, 221], range_buttons):
    txt(bottom, b_x, 752, t, "12px", INK, align="center")
ln(bottom, [237, 237], [742, 762], BAND)
ln(bottom, [251, 251, 267, 267], [752, 745, 745, 760]); ln(bottom, [251, 267], [749, 749]); ln(bottom, [260, 267], [760, 760])
ln(bottom, [251, 258], [757, 757]); ln(bottom, [255, 258, 255], [754, 757, 760])
txt(bottom, 1404, 753, "14:07:27 (UTC)", "12.5px", INK)
ln(bottom, [1496, 1496], [743, 763], BAND)
txt(bottom, 1511, 753, "%", "13px", INK, align="center")
txt(bottom, 1536, 753, "log", "12.5px", INK, align="center")
txt(bottom, 1569, 753, "auto", "12.5px", "#4a6cf7", align="center")

page = column(top, row(left, p, spacing=0), bottom, spacing=0)
open("out.html", "w").write(file_html(page, INLINE))
